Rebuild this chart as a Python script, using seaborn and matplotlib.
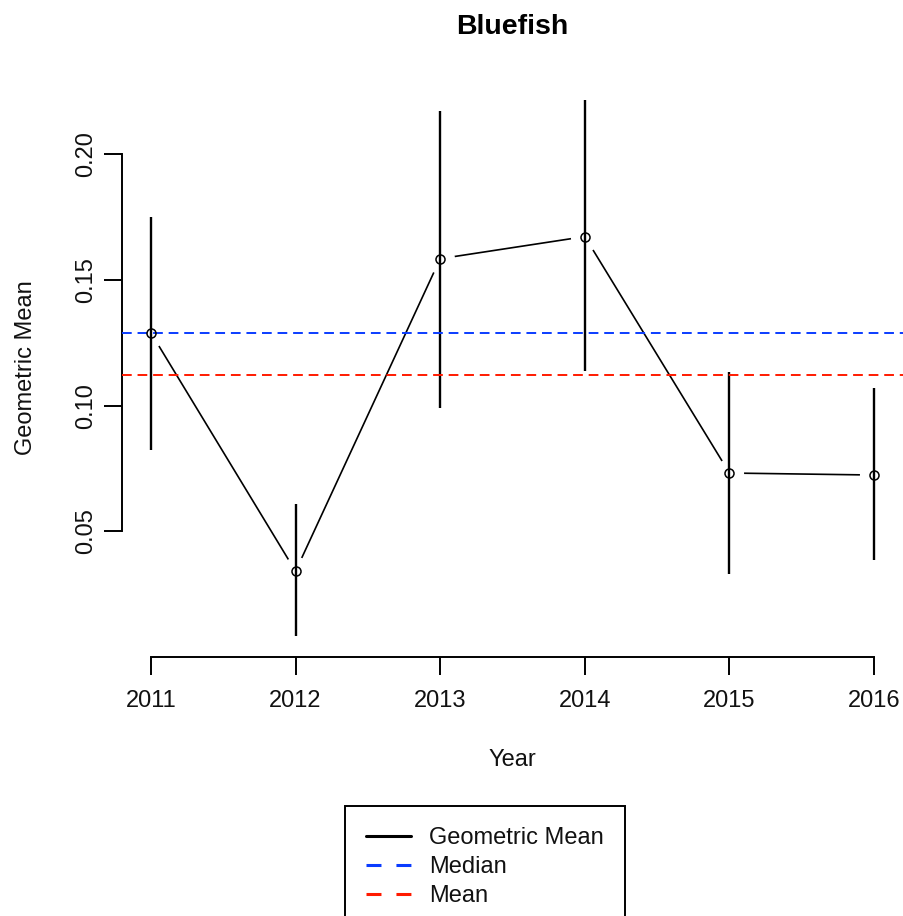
import matplotlib
matplotlib.use("Agg")
import matplotlib.pyplot as plt
import numpy as np
import pandas as pd
import seaborn as sns
from matplotlib.lines import Line2D

# Bluefish index by survey year
years = [2011, 2012, 2013, 2014, 2015, 2016]
geo_mean = [0.129, 0.0341, 0.1585, 0.1673, 0.0732, 0.0724]
ci_lower = [0.0823, 0.0085, 0.0991, 0.1138, 0.0329, 0.0385]
ci_upper = [0.1749, 0.0608, 0.2172, 0.2215, 0.1134, 0.1071]
median_value = 0.129
mean_value = 0.1122
y_ticks = [0.05, 0.10, 0.15, 0.20]
y_tick_labels = ["0.05", "0.10", "0.15", "0.20"]
legend_labels = ["Geometric Mean", "Median", "Mean"]

sns.set_theme(style="white")
plt.rcParams["font.family"] = ["Liberation Sans", "DejaVu Sans"]

df = pd.DataFrame({"Year": years, "GM": geo_mean, "lo": ci_lower, "hi": ci_upper})

W, H = 904, 916
fig = plt.figure(figsize=(W / 100, H / 100), dpi=100)
ax = fig.add_axes([122 / W, 1 - 657 / H, 781 / W, 578 / H])

BLUE = "#0a3cff"
RED = "#ff1a00"
TXT = "#111111"

# joining line, broken around each point by a white disc
sns.lineplot(data=df, x="Year", y="GM", color="black", lw=1.2, ax=ax,
             zorder=1, legend=False)
ax.plot(df["Year"], df["GM"], ls="none", marker="o", ms=20,
        mfc="white", mec="white", zorder=2)

# confidence intervals
ax.vlines(df["Year"], df["lo"], df["hi"], color="black", lw=1.7, zorder=3)

# reference lines
ax.axhline(median_value, color=BLUE, lw=1.4, ls=(0, (5.0, 3.0)), zorder=4)
ax.axhline(mean_value, color=RED, lw=1.4, ls=(0, (5.0, 3.0)), zorder=4)

# open circles
ax.plot(df["Year"], df["GM"], ls="none", marker="o", ms=6.5,
        mfc="none", mec="black", mew=1.1, zorder=5)

# R-style axis extents (4% padding)
lo_all, hi_all = min(ci_lower), max(ci_upper)
ypad = 0.04 * (hi_all - lo_all)
ax.set_ylim(lo_all - ypad, hi_all + ypad)
xpad = 0.04 * (max(years) - min(years))
ax.set_xlim(min(years) - xpad, max(years) + xpad)

ax.set_xticks(years)
ax.set_xticklabels([str(y) for y in years])
ax.set_yticks(y_ticks)
ax.set_yticklabels(y_tick_labels)

for side in ["top", "right"]:
    ax.spines[side].set_visible(False)
for side in ["left", "bottom"]:
    ax.spines[side].set_color("black")
    ax.spines[side].set_linewidth(1.4)
ax.spines["left"].set_bounds(min(y_ticks), max(y_ticks))
ax.spines["bottom"].set_bounds(min(years), max(years))

ax.tick_params(axis="both", direction="out", length=13, width=1.4,
               color="black", labelsize=17, labelcolor=TXT)
ax.tick_params(axis="x", pad=11, bottom=True)
ax.tick_params(axis="y", pad=5, left=True)
for lab in ax.get_yticklabels():
    lab.set_rotation(90)
    lab.set_va("center")

ax.set_xlabel("Year", fontsize=17, color=TXT)
ax.xaxis.set_label_coords(0.5, -0.160)
ax.set_ylabel("Geometric Mean", fontsize=17, color=TXT)
ax.yaxis.set_label_coords(-0.1088, 0.5)

ax.set_title("Bluefish", fontsize=20.5, fontweight="bold", color="black",
             y=1.0779, pad=0)

handles = [
    Line2D([], [], color="black", lw=2.2),
    Line2D([], [], color=BLUE, lw=2.2, ls=(0, (4.9, 4.9))),
    Line2D([], [], color=RED, lw=2.2, ls=(0, (4.9, 4.9))),
]
leg = fig.legend(handles, legend_labels, loc="upper left",
                 bbox_to_anchor=(345 / W, 1 - 806 / H), frameon=True,
                 fancybox=False, edgecolor="black", framealpha=1,
                 fontsize=17, handlelength=1.9, handletextpad=0.75,
                 labelspacing=0.29, borderpad=0.9, borderaxespad=0)
leg.get_frame().set_linewidth(1.4)
for t in leg.get_texts():
    t.set_color(TXT)

fig.savefig("out.png", dpi=100)
